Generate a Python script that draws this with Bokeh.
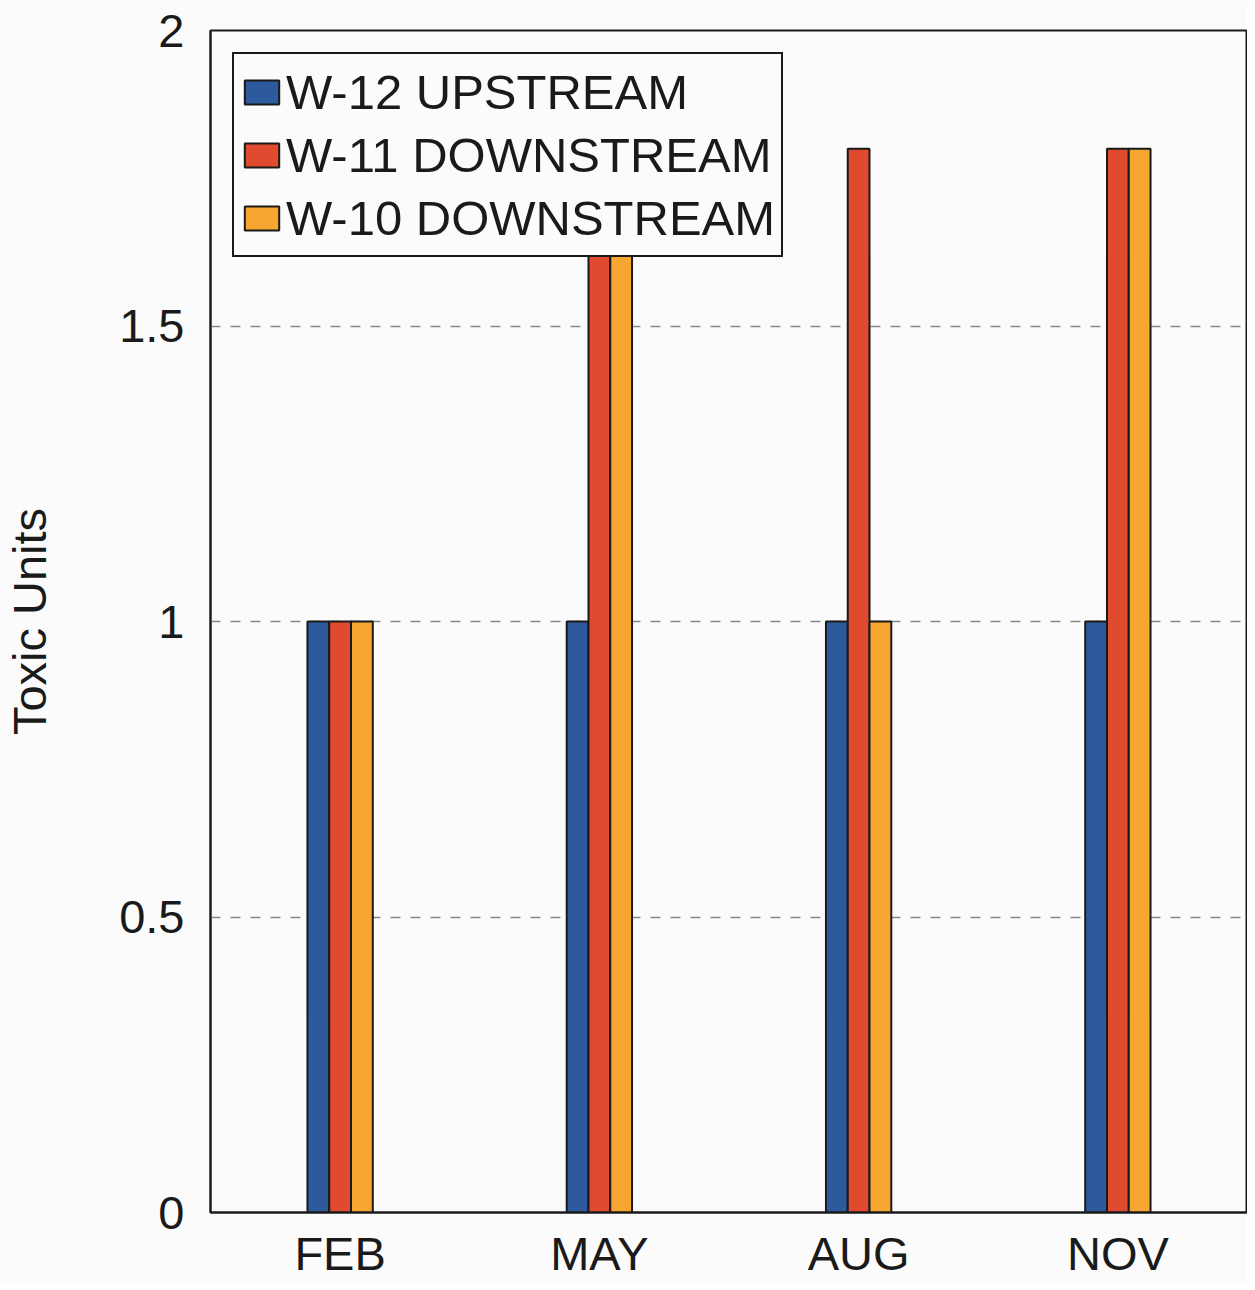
from bokeh.plotting import figure
from bokeh.models import ColumnDataSource, FactorRange, Range1d, Legend, LegendItem, FixedTicker
from bokeh.transform import dodge
from bokeh.embed import file_html
from bokeh.resources import INLINE

months = ["FEB", "MAY", "AUG", "NOV"]
w12_upstream = [1.0, 1.0, 1.0, 1.0]
w11_downstream = [1.0, 1.8, 1.8, 1.8]
w10_downstream = [1.0, 1.8, 1.0, 1.8]
series_names = ["W-12 UPSTREAM", "W-11 DOWNSTREAM", "W-10 DOWNSTREAM"]
colors = ["#2c5a9c", "#e04a2e", "#f6a631"]
y_ticks = [0, 0.5, 1, 1.5, 2]
y_tick_labels = {0: "0", 0.5: "0.5", 1: "1", 1.5: "1.5", 2: "2"}

src = ColumnDataSource(dict(month=months, w12=w12_upstream, w11=w11_downstream, w10=w10_downstream))

BG = "#fbfbfb"
p = figure(x_range=FactorRange(*months, range_padding=0), y_range=Range1d(0, 2),
           width=1247, height=1282, output_backend="svg", toolbar_location=None,
           background_fill_color=BG, border_fill_color=BG,
           min_border_left=210, min_border_right=0, min_border_top=30, min_border_bottom=60)

bw = 0.084
fields = ["w12", "w11", "w10"]
offsets = [-bw, 0, bw]
renderers = []
for f, off, c in zip(fields, offsets, colors):
    r = p.vbar(x=dodge("month", off, range=p.x_range), top=f, width=bw, bottom=0, source=src,
               fill_color=c, line_color="#1a1a1a", line_width=2)
    renderers.append(r)

legend = Legend(items=[LegendItem(label=n, renderers=[r]) for n, r in zip(series_names, renderers)],
                location="top_left", margin=22, padding=6, spacing=0,
                label_text_font="Liberation Sans", label_text_font_size="49px",
                label_text_color="#1a1a1a", label_height=63, label_standoff=3,
                glyph_width=43, glyph_height=30,
                border_line_color="#1a1a1a", border_line_width=2, border_line_alpha=1.0,
                background_fill_color=BG, background_fill_alpha=1.0)
p.add_layout(legend, "center")

p.outline_line_color = "#1a1a1a"
p.outline_line_width = 2
p.outline_line_alpha = 1.0

p.xgrid.grid_line_color = None
p.ygrid.ticker = FixedTicker(ticks=[0.5, 1, 1.5])
p.ygrid.grid_line_color = "#888888"
p.ygrid.grid_line_dash = "10 10"
p.ygrid.grid_line_width = 1.5

p.yaxis.ticker = FixedTicker(ticks=y_ticks)
p.yaxis.major_label_overrides = y_tick_labels
p.yaxis.axis_label = "Toxic Units"
p.yaxis.axis_label_text_font = "Liberation Sans"
p.yaxis.axis_label_text_font_size = "47px"
p.yaxis.axis_label_text_font_style = "normal"
p.yaxis.axis_label_text_color = "#1a1a1a"
p.yaxis.axis_label_standoff = 60

for ax in (p.xaxis[0], p.yaxis[0]):
    ax.axis_line_color = "#1a1a1a"
    ax.axis_line_width = 2
    ax.major_tick_line_color = None
    ax.minor_tick_line_color = None
    ax.major_label_text_font = "Liberation Sans"
    ax.major_label_text_font_size = "47px"
    ax.major_label_text_color = "#1a1a1a"

p.yaxis.major_label_standoff = 20
p.xaxis.major_label_standoff = 8

open("out.html", "w").write(file_html(p, INLINE))
